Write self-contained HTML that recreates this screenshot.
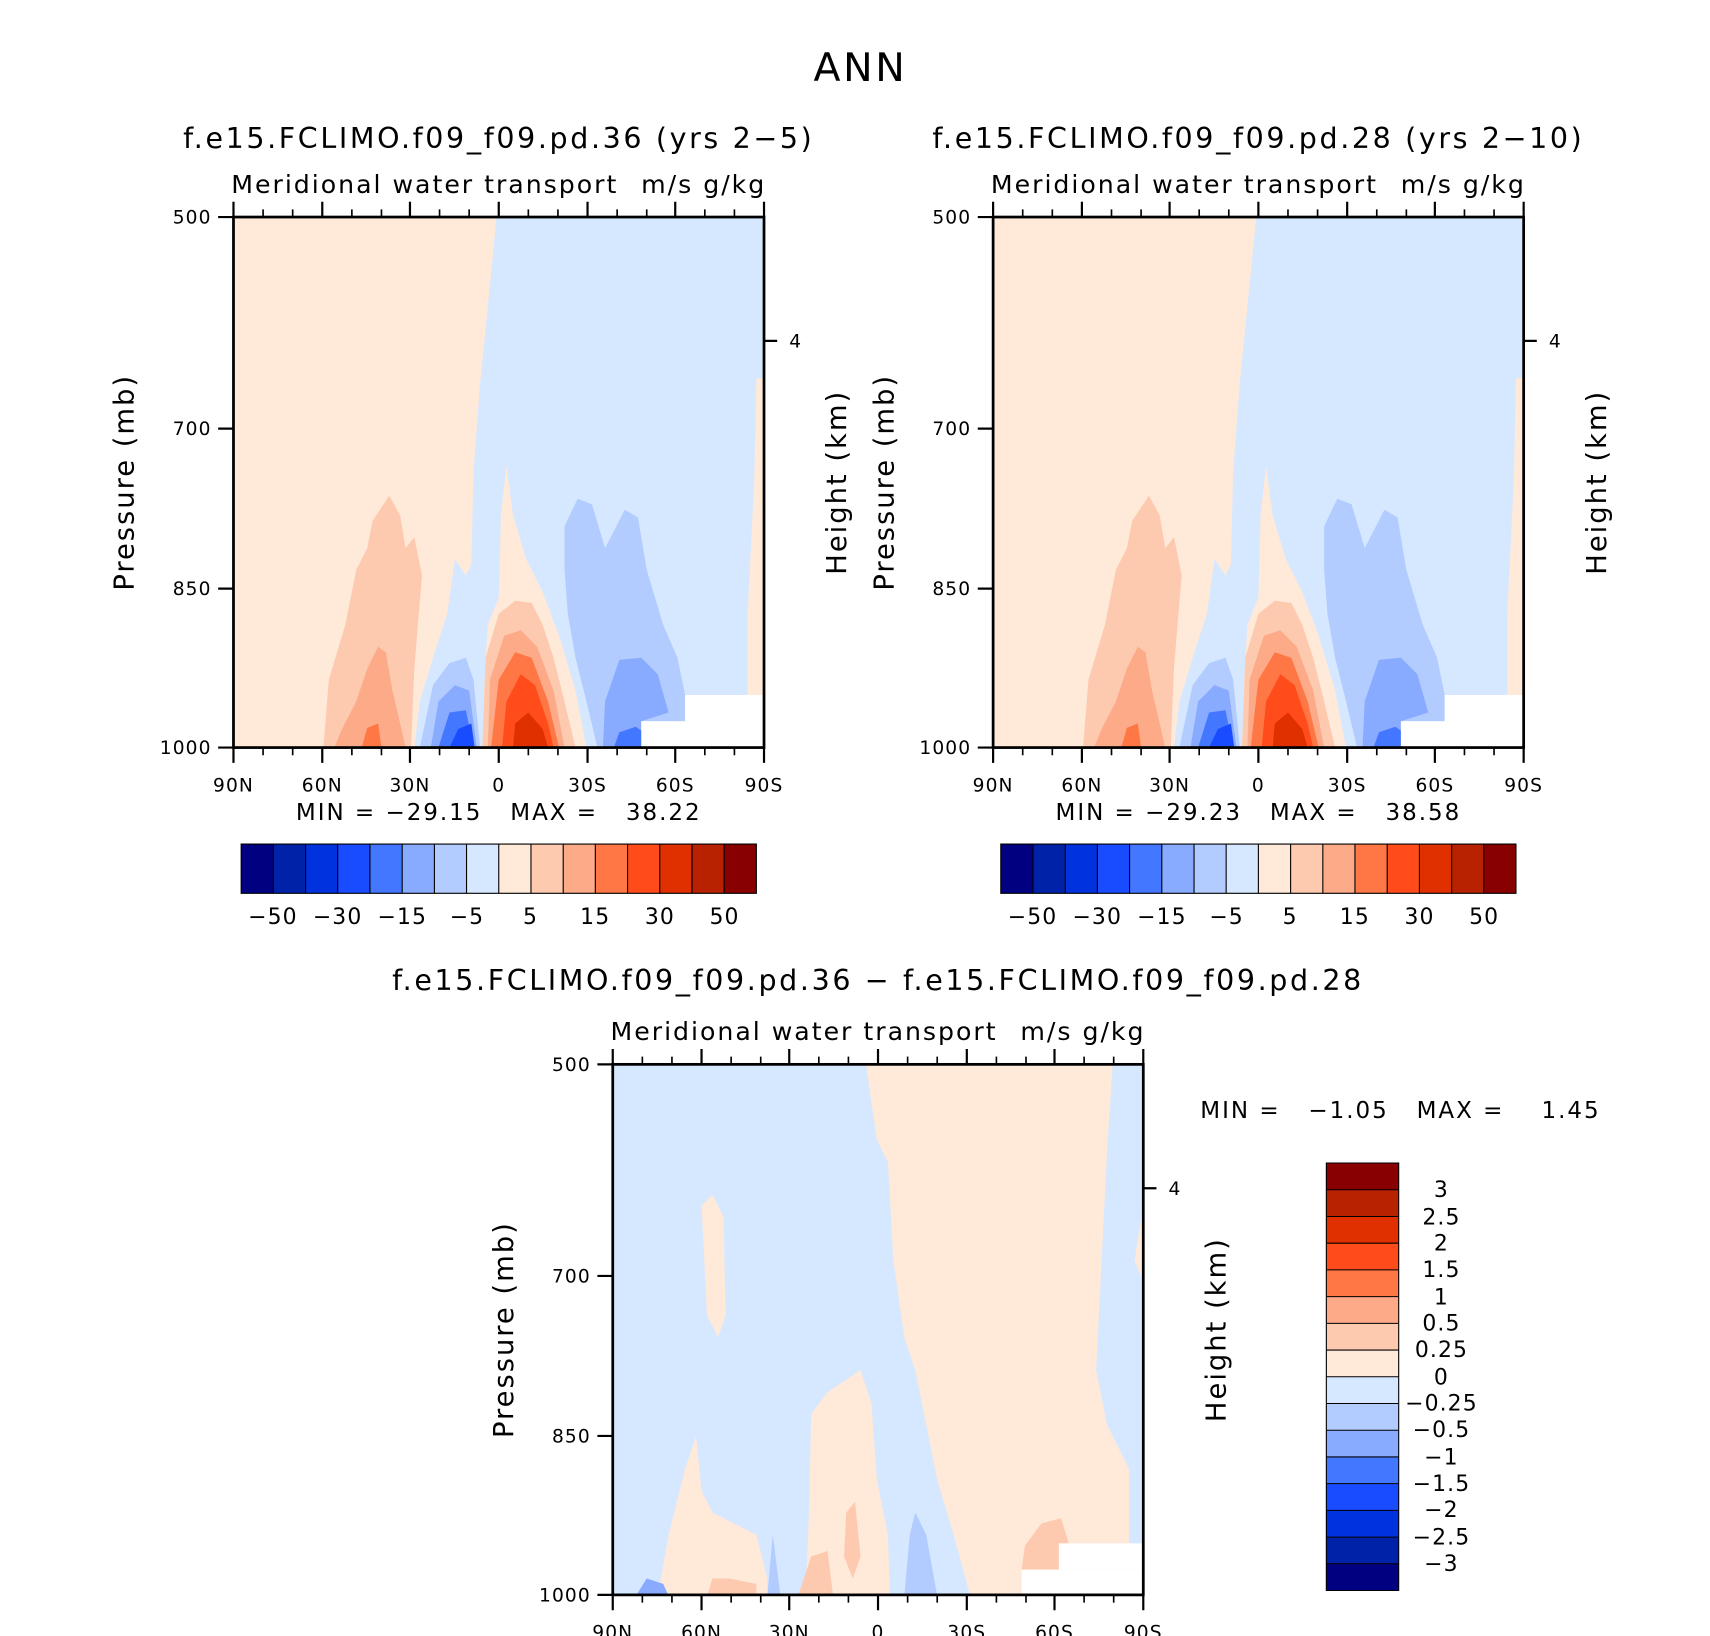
<!DOCTYPE html>
<html><head><meta charset="utf-8"><style>html,body{margin:0;padding:0;background:#fff}svg{display:block}text{font-family:"DejaVu Sans","Liberation Sans",sans-serif;fill:#000;letter-spacing:1px}.t{letter-spacing:2.4px}.m{letter-spacing:1.8px}</style></head><body>
<svg width="1710" height="1636" viewBox="0 0 1560 1492.5" xmlns="http://www.w3.org/2000/svg">
<defs>
<g id="p">
<rect x="213" y="198" width="484" height="484" fill="#ffe9d9"/>
<polygon fill="#d6e8ff" points="453,198 697,198 697,345 690,345 688,440 682,560 682,634 625,634 625,658 585,658 585,682 535,682 525,630 510,580 495,540 480,510 468,470 462,425 457,470 455,545 445,570 442,620 440,682 378,682 383,640 395,600 408,560 415,510 425,525 430,515 432,430 438,350 445,280"/>
<polygon fill="#b3ccff" points="515,480 527,455 540,460 552,500 570,465 582,472 590,520 605,570 618,600 625,634 625,658 585,658 585,682 545,682 535,640 525,600 518,560 515,520"/>
<polygon fill="#88aaff" points="550,682 552,640 565,602 585,600 600,615 610,650 585,658 585,682"/>
<polygon fill="#4477ff" points="560,682 565,668 580,663 590,670 585,682"/>
<polygon fill="#b3ccff" points="383,682 395,625 410,605 425,600 432,620 438,682"/>
<polygon fill="#88aaff" points="393,682 400,640 415,625 428,630 435,682"/>
<polygon fill="#4477ff" points="400,682 410,650 425,648 432,682"/>
<polygon fill="#1a4cff" points="410,682 418,665 430,660 433,682"/>
<polygon fill="#fdcab0" points="295,682 300,620 315,570 325,520 335,500 340,475 350,460 355,452 365,470 370,500 378,490 385,525 382,560 378,610 375,682"/>
<polygon fill="#fcaa88" points="305,682 312,665 325,640 335,610 345,590 352,595 358,630 365,660 370,682"/>
<polygon fill="#ff7744" points="330,682 335,664 345,660 348,682"/>
<polygon fill="#fdcab0" points="440,682 443,600 455,560 470,548 485,550 495,570 505,600 515,640 525,682"/>
<polygon fill="#fcaa88" points="445,682 447,620 460,580 475,575 490,590 505,630 515,682"/>
<polygon fill="#ff7744" points="448,682 455,620 470,595 485,600 500,640 510,682"/>
<polygon fill="#ff4c1a" points="458,682 462,640 475,615 488,625 500,660 505,682"/>
<polygon fill="#e03000" points="468,682 470,660 482,650 495,665 500,682"/>
<rect x="585" y="658" width="112" height="24" fill="#fff"/>
<rect x="625" y="634" width="72" height="24" fill="#fff"/>
</g>
<g id="ax" stroke="#000" fill="none">
<rect x="213" y="198" width="484" height="484" stroke-width="2.5"/>
<path stroke-width="2" d="M213,682v14M294,682v14M374,682v14M455,682v14M536,682v14M616,682v14M697,682v14M213,198v-14M294,198v-14M374,198v-14M455,198v-14M536,198v-14M616,198v-14M697,198v-14M213,198h-14M213,391h-14M213,537h-14M213,682h-14M697,311h12"/>
<path stroke-width="1.5" d="M240,682v7M267,682v7M321,682v7M348,682v7M401,682v7M428,682v7M482,682v7M509,682v7M563,682v7M590,682v7M643,682v7M670,682v7M240,198v-7M267,198v-7M321,198v-7M348,198v-7M401,198v-7M428,198v-7M482,198v-7M509,198v-7M563,198v-7M590,198v-7M643,198v-7M670,198v-7"/>
</g>
<g id="lab" font-size="17">
<text x="193" y="204" text-anchor="end">500</text>
<text x="193" y="397" text-anchor="end">700</text>
<text x="193" y="543" text-anchor="end">850</text>
<text x="193" y="688" text-anchor="end">1000</text>
<text x="720" y="317">4</text>
<g text-anchor="middle"><text x="213" y="722">90N</text><text x="294" y="722">60N</text><text x="374" y="722">30N</text><text x="455" y="722">0</text><text x="536" y="722">30S</text><text x="616" y="722">60S</text><text x="697" y="722">90S</text></g>
<text x="211" y="176" font-size="23" class="m">Meridional water transport</text>
<text x="699" y="176" font-size="23" text-anchor="end" class="m">m/s g/kg</text>
<text transform="translate(122,440) rotate(-90)" font-size="25" text-anchor="middle" class="m">Pressure (mb)</text>
<text transform="translate(772,440) rotate(-90)" font-size="25" text-anchor="middle" class="m">Height (km)</text>
</g>
<g id="cb">
<rect x="220" y="770" width="29.4" height="45" fill="#000080"/>
<rect x="249.4" y="770" width="29.4" height="45" fill="#0022a8"/>
<rect x="278.8" y="770" width="29.4" height="45" fill="#0033dd"/>
<rect x="308.1" y="770" width="29.4" height="45" fill="#1a4cff"/>
<rect x="337.5" y="770" width="29.4" height="45" fill="#4477ff"/>
<rect x="366.9" y="770" width="29.4" height="45" fill="#88aaff"/>
<rect x="396.3" y="770" width="29.4" height="45" fill="#b3ccff"/>
<rect x="425.6" y="770" width="29.4" height="45" fill="#d6e8ff"/>
<rect x="455" y="770" width="29.4" height="45" fill="#ffe9d9"/>
<rect x="484.4" y="770" width="29.4" height="45" fill="#fdcab0"/>
<rect x="513.8" y="770" width="29.4" height="45" fill="#fcaa88"/>
<rect x="543.1" y="770" width="29.4" height="45" fill="#ff7744"/>
<rect x="572.5" y="770" width="29.4" height="45" fill="#ff4c1a"/>
<rect x="601.9" y="770" width="29.4" height="45" fill="#e03000"/>
<rect x="631.3" y="770" width="29.4" height="45" fill="#b82200"/>
<rect x="660.6" y="770" width="29.4" height="45" fill="#880000"/>
<path stroke="#000" stroke-width="1" fill="none" d="M220,770h470v45h-470zM249.4,770v45M278.8,770v45M308.1,770v45M337.5,770v45M366.9,770v45M396.3,770v45M425.6,770v45M455,770v45M484.4,770v45M513.8,770v45M543.1,770v45M572.5,770v45M601.9,770v45M631.3,770v45M660.6,770v45"/>
<g font-size="20" text-anchor="middle"><text x="249" y="843">−50</text><text x="308" y="843">−30</text><text x="367" y="843">−15</text><text x="426" y="843">−5</text><text x="484" y="843">5</text><text x="543" y="843">15</text><text x="602" y="843">30</text><text x="661" y="843">50</text></g>
</g>
</defs>
<text x="785" y="74" font-size="36" text-anchor="middle" class="t">ANN</text>
<text x="455" y="135" font-size="26" text-anchor="middle" class="t">f.e15.FCLIMO.f09_f09.pd.36 (yrs 2−5)</text>
<text x="1148" y="135" font-size="26" text-anchor="middle" class="t">f.e15.FCLIMO.f09_f09.pd.28 (yrs 2−10)</text>
<use href="#p"/><use href="#ax"/><use href="#lab"/><use href="#cb"/>
<g transform="translate(693,0)"><use href="#p"/><use href="#ax"/><use href="#lab"/><use href="#cb"/></g>
<text x="455" y="748" font-size="21" text-anchor="middle" xml:space="preserve" class="m">MIN = −29.15   MAX =   38.22</text>
<text x="1148" y="748" font-size="21" text-anchor="middle" xml:space="preserve" class="m">MIN = −29.23   MAX =   38.58</text>
<text x="801" y="903" font-size="26" text-anchor="middle" class="t">f.e15.FCLIMO.f09_f09.pd.36 − f.e15.FCLIMO.f09_f09.pd.28</text>
<g>
<rect x="559" y="971" width="484" height="485" fill="#d6e8ff"/>
<polygon fill="#ffe9d9" points="790,971 1015,971 1010,1050 1005,1150 1000,1250 1010,1300 1030,1340 1030,1408 966,1408 966,1432 932,1432 932,1456 885,1456 870,1400 855,1350 845,1300 835,1250 825,1220 815,1150 810,1060 800,1040"/>
<polygon fill="#ffe9d9" points="735,1456 738,1380 740,1290 755,1270 770,1260 785,1250 795,1280 800,1350 810,1400 812,1456"/>
<polygon fill="#ffe9d9" points="600,1456 610,1400 625,1340 635,1310 640,1360 650,1380 670,1390 690,1400 700,1440 700,1456"/>
<polygon fill="#ffe9d9" points="640,1100 650,1090 660,1110 662,1200 655,1220 645,1200"/>
<polygon fill="#ffe9d9" points="1035,1150 1043,1100 1043,1170"/>
<polygon fill="#b3ccff" points="700,1456 705,1400 712,1456"/>
<polygon fill="#b3ccff" points="825,1456 830,1400 835,1380 845,1400 855,1456"/>
<polygon fill="#fdcab0" points="932,1432 935,1410 950,1390 968,1385 975,1408 966,1408 966,1432"/>
<polygon fill="#fdcab0" points="728,1456 740,1420 755,1415 760,1456"/>
<polygon fill="#fdcab0" points="770,1420 772,1380 780,1370 785,1420 778,1440"/>
<polygon fill="#fdcab0" points="645,1456 650,1440 665,1440 690,1445 690,1456"/>
<polygon fill="#88aaff" points="580,1456 590,1440 605,1445 610,1456"/>
<rect x="932" y="1432" width="111" height="24" fill="#fff"/>
<rect x="966" y="1408" width="77" height="24" fill="#fff"/>
</g>
<g transform="translate(346,773)"><use href="#ax"/><use href="#lab"/></g>
<text x="1095" y="1020" font-size="21" xml:space="preserve" class="m">MIN =   −1.05   MAX =    1.45</text>
<g>
<rect x="1210" y="1061" width="66" height="24.4" fill="#880000"/>
<rect x="1210" y="1085.4" width="66" height="24.4" fill="#b82200"/>
<rect x="1210" y="1109.8" width="66" height="24.4" fill="#e03000"/>
<rect x="1210" y="1134.1" width="66" height="24.4" fill="#ff4c1a"/>
<rect x="1210" y="1158.5" width="66" height="24.4" fill="#ff7744"/>
<rect x="1210" y="1182.9" width="66" height="24.4" fill="#fcaa88"/>
<rect x="1210" y="1207.3" width="66" height="24.4" fill="#fdcab0"/>
<rect x="1210" y="1231.6" width="66" height="24.4" fill="#ffe9d9"/>
<rect x="1210" y="1256" width="66" height="24.4" fill="#d6e8ff"/>
<rect x="1210" y="1280.4" width="66" height="24.4" fill="#b3ccff"/>
<rect x="1210" y="1304.8" width="66" height="24.4" fill="#88aaff"/>
<rect x="1210" y="1329.1" width="66" height="24.4" fill="#4477ff"/>
<rect x="1210" y="1353.5" width="66" height="24.4" fill="#1a4cff"/>
<rect x="1210" y="1377.9" width="66" height="24.4" fill="#0033dd"/>
<rect x="1210" y="1402.3" width="66" height="24.4" fill="#0022a8"/>
<rect x="1210" y="1426.6" width="66" height="24.4" fill="#000080"/>
<path stroke="#000" stroke-width="1" fill="none" d="M1210,1061h66v390h-66zM1210,1085.4h66M1210,1109.8h66M1210,1134.1h66M1210,1158.5h66M1210,1182.9h66M1210,1207.3h66M1210,1231.6h66M1210,1256h66M1210,1280.4h66M1210,1304.8h66M1210,1329.1h66M1210,1353.5h66M1210,1377.9h66M1210,1402.3h66M1210,1426.6h66"/>
<g font-size="20" text-anchor="middle"><text x="1315" y="1092">3</text><text x="1315" y="1117">2.5</text><text x="1315" y="1141">2</text><text x="1315" y="1165">1.5</text><text x="1315" y="1190">1</text><text x="1315" y="1214">0.5</text><text x="1315" y="1238">0.25</text><text x="1315" y="1263">0</text><text x="1315" y="1287">−0.25</text><text x="1315" y="1311">−0.5</text><text x="1315" y="1336">−1</text><text x="1315" y="1360">−1.5</text><text x="1315" y="1384">−2</text><text x="1315" y="1409">−2.5</text><text x="1315" y="1433">−3</text></g>
</g>
</svg>
</body></html>
